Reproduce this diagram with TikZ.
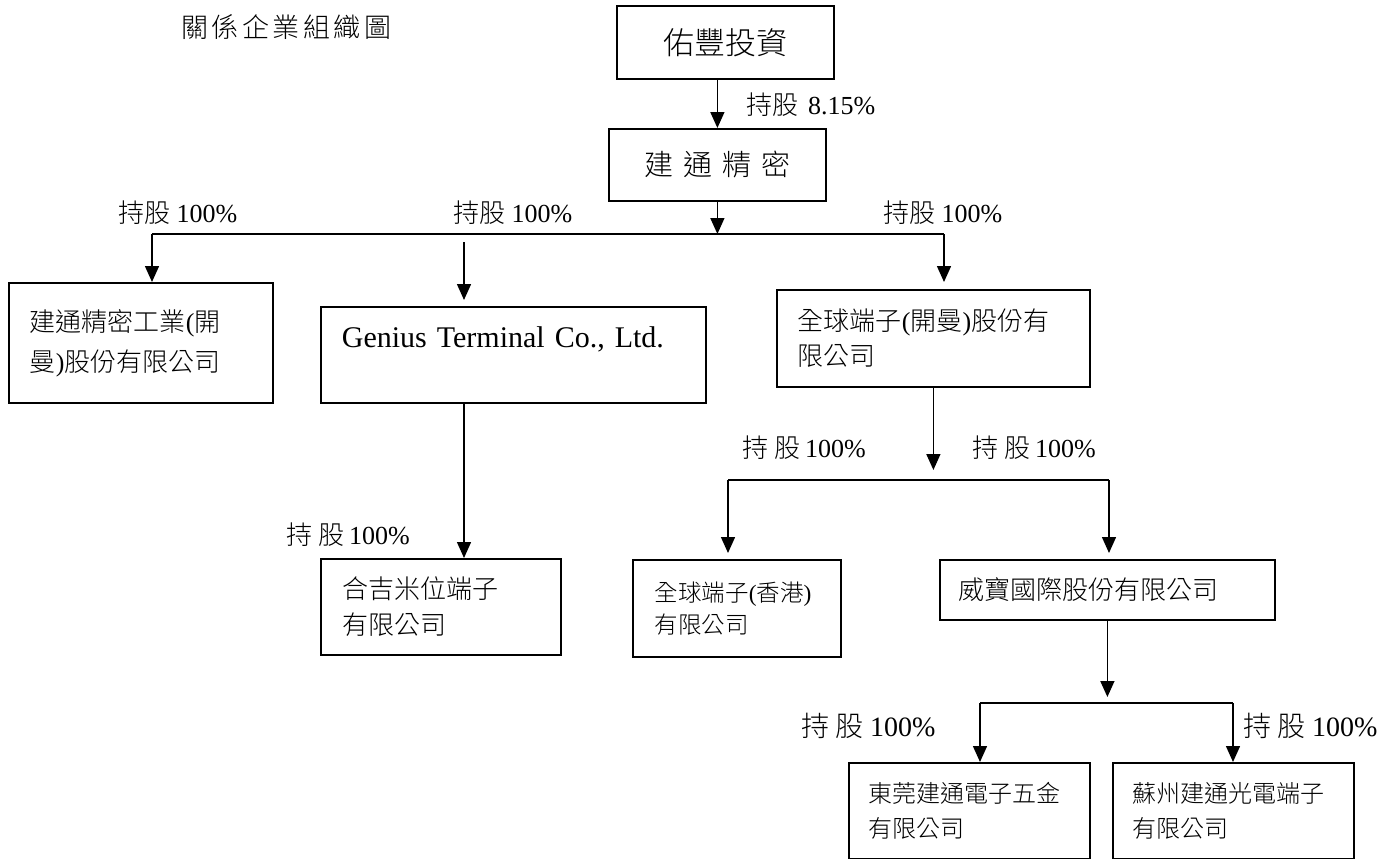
\documentclass[tikz,border=0pt]{standalone}
\usepackage{fontspec}
\setmainfont{Liberation Serif}
\newfontfamily\cjk[UprightFont={* Light}]{Noto Sans CJK TC}
\usepackage{tikz}
\usetikzlibrary{arrows.meta}
\newcommand{\zh}[1]{{\cjk #1}}

\tikzset{
	box/.style={draw,line width=1.8pt,anchor=north west,align=left,inner ysep=0pt,font=\fontsize{26}{36}\selectfont},
	arr/.style={line width=1.5pt,-{Triangle[width=14pt,length=16pt]}},
	bus/.style={line width=1.5pt},
	lab/.style={anchor=west,inner sep=0pt,font=\fontsize{26}{30}\selectfont},
}

\begin{document}
\begin{tikzpicture}[x=1pt,y=-1pt]
		\useasboundingbox (0,0) rectangle (1393,859);
		% title
		\node[lab] (title) at (181,27) {\fontsize{27}{30}\selectfont\cjk\addfontfeature{LetterSpace=13}關係企業組織圖};
		% top
		\node[box,align=center,inner xsep=20pt,text width=177pt,minimum height=73pt,font=\fontsize{31}{36}\selectfont] (yufeng) at (616,5) {\zh{佑豐投資}};
		\node[box,align=center,inner xsep=20pt,text width=177pt,minimum height=72pt,font=\fontsize{29}{36}\selectfont] (jiantong) at (608,128) {\cjk\addfontfeature{LetterSpace=34}建通精密};
		\draw[arr] (jiantong.north |- yufeng.south) -- (jiantong.north);
		\node[lab] (l815) at (746,105) {\zh{持股}\hspace{10pt}8.15\%};
		% first bus
		\coordinate (b1l) at (152,234);
		\coordinate (b1r) at (944,234);
		\coordinate (b1g) at (464,242);
		\draw[bus] (b1l) -- (b1r);
		\draw[arr] (jiantong.south) -- (jiantong.south |- b1l);
		\node[lab] (lkm) at (118,213) {\zh{持股} 100\%};
		\node[lab] (lgt) at (453,213) {\zh{持股} 100\%};
		\node[lab] (lqq) at (883,213) {\zh{持股} 100\%};
		% second row
		\node[box,inner xsep=21pt,text width=222pt,minimum height=120pt,font=\fontsize{26}{40}\selectfont] (jtkm) at (8,282) {\zh{建通精密工業}(\zh{開}\\\zh{曼})\zh{股份有限公司}};
		\node[box,inner xsep=21pt,text width=343pt,minimum height=96pt,font=\fontsize{30}{36}\selectfont] (genius) at (320,306) {Genius Terminal Co., Ltd.\\\mbox{}};
		\node[box,inner xsep=21pt,text width=271pt,minimum height=97pt,font=\fontsize{26}{35}\selectfont] (qqkm) at (776,289) {\zh{全球端子}(\zh{開曼})\zh{股份有}\\\zh{限公司}};
		\draw[arr] (b1l) -- (b1l |- jtkm.north);
		\draw[arr,shorten >=6pt] (b1g) -- (b1g |- genius.north);
		\draw[arr,shorten >=7pt] (b1r) -- (b1r |- qqkm.north);
		% genius branch
		\node[box,inner xsep=22pt,text width=196pt,minimum height=96pt] (hejimi) at (320,558) {\zh{合吉米位端子}\\\zh{有限公司}};
		\draw[arr] (b1g |- genius.south) -- (b1g |- hejimi.north);
		\node[lab] (lhj) at (286,535) {\zh{持}\hspace{6pt}\zh{股}\hspace{5pt}100\%};
		% second bus
		\coordinate (b2l) at (728,480);
		\coordinate (b2r) at (1109,480);
		\draw[arr,shorten >=10pt] (qqkm.south) -- (qqkm.south |- b2l);
		\draw[bus] (b2l) -- (b2r);
		\node[lab] (lhk) at (742,448) {\zh{持}\hspace{6pt}\zh{股}\hspace{5pt}100\%};
		\node[lab] (lwb) at (972,448) {\zh{持}\hspace{6pt}\zh{股}\hspace{5pt}100\%};
		\node[box,inner xsep=22pt,text width=164pt,minimum height=97pt,font=\fontsize{23.5}{32}\selectfont] (qqhk) at (632,559) {\zh{全球端子}(\zh{香港})\\\zh{有限公司}};
		\node[box,inner xsep=19pt,text width=297pt,minimum height=60pt] (weibao) at (939,559) {\zh{威寶國際股份有限公司}};
		\draw[arr,shorten >=6pt] (b2l) -- (b2l |- qqhk.north);
		\draw[arr,shorten >=6pt] (b2r) -- (b2r |- weibao.north);
		% third bus
		\coordinate (b3l) at (980,703);
		\coordinate (b3r) at (1233,703);
		\draw[arr,shorten >=6pt] (weibao.south) -- (weibao.south |- b3l);
		\draw[bus] (b3l) -- (b3r);
		\node[lab,font=\fontsize{28}{30}\selectfont] (ldg) at (801,726) {\zh{持}\hspace{6pt}\zh{股} 100\%};
		\node[lab,font=\fontsize{28}{30}\selectfont] (lsz) at (1243,726) {\zh{持}\hspace{6pt}\zh{股} 100\%};
		\node[box,inner xsep=20pt,text width=201pt,minimum height=96pt,font=\fontsize{24}{35}\selectfont] (dongguan) at (848,762) {\zh{東莞建通電子五金}\\\zh{有限公司}};
		\node[box,inner xsep=20pt,text width=201pt,minimum height=96pt,font=\fontsize{24}{35}\selectfont] (suzhou) at (1112,762) {\zh{蘇州建通光電端子}\\\zh{有限公司}};
		\draw[arr] (b3l) -- (b3l |- dongguan.north);
		\draw[arr] (b3r) -- (b3r |- suzhou.north);
	\end{tikzpicture}
\end{document}
